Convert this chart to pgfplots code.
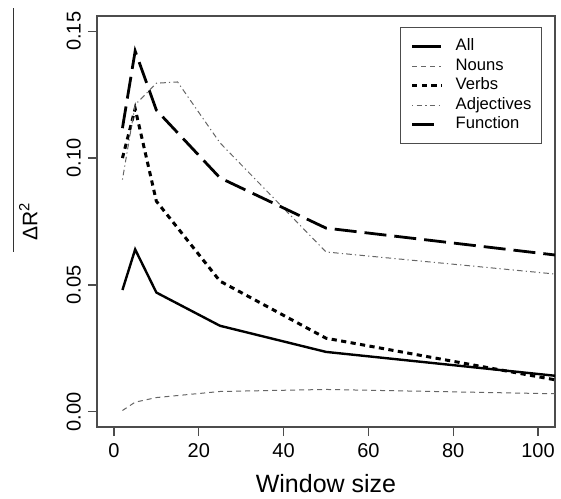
\documentclass[border=0pt]{standalone}
\usepackage{fontspec}
\setmainfont{Liberation Sans}
\usepackage{pgfplots}
\pgfplotsset{compat=1.18}

\definecolor{frame}{gray}{0.3}

\begin{document}
\begin{tikzpicture}
\begin{axis}[
  scale only axis, width=229pt, height=205.5pt,
  xmin=-4, xmax=104, ymin=-0.006, ymax=0.156,
  axis line style={frame, line width=0.6pt},
  xtick={0,20,...,100}, ytick={0,0.05,0.1,0.15},
  xtick pos=bottom, ytick pos=left, tick align=outside,
  major tick length=4.5pt, tick style={frame, line width=0.6pt},
  scaled y ticks=false,
  /pgf/number format/assume math mode=true,
  tick label style={font=\fontsize{10}{12}\selectfont},
  y tick label style={rotate=90, anchor=south,
    /pgf/number format/.cd, fixed, fixed zerofill, precision=2},
  xlabel={Window size},
  xlabel style={font=\fontsize{12.5}{14}\selectfont, at={(axis description cs:0.5,0)}, anchor=base, yshift=-32.5pt},
  ylabel={ΔR\textsuperscript{2}},
  ylabel style={font=\fontsize{10.5}{12}\selectfont, at={(axis description cs:-0.15,0.5)}, anchor=center},
  legend cell align=left,
  legend style={at={(axis description cs:1,1)}, anchor=north east, xshift=-6.5pt, yshift=-5.5pt,
    draw=frame, line width=0.6pt, font=\fontsize{8.3}{9}\selectfont,
    inner xsep=5pt, inner ysep=4.5pt, row sep=0pt,
    nodes={inner sep=0pt, text height=6.9pt, text depth=2.9pt}},
  legend image code/.code={\draw[#1] (0pt,0pt) -- (14.5pt,0pt); \path (21pt,0pt);},
]
\addplot[black, line width=1.2pt] coordinates {
  (2,0.048) (5,0.064) (10,0.047) (25,0.0339) (50,0.0236) (104,0.0142)};
\addlegendentry{All}
\addplot[black!60, line width=0.5pt, dash pattern=on 2.5pt off 2pt] coordinates {
  (2,0.0005) (5,0.0038) (10,0.0056) (25,0.0080) (50,0.0088) (104,0.0071)};
\addlegendentry{Nouns}
\addplot[black, line width=1.5pt, dash pattern=on 2.6pt off 2.2pt] coordinates {
  (2,0.100) (5,0.1195) (10,0.083) (25,0.0515) (50,0.029) (104,0.0126)};
\addlegendentry{Verbs}
\addplot[black!60, line width=0.5pt, dash pattern=on 0.6pt off 1.6pt on 2.8pt off 1.6pt] coordinates {
  (2,0.0915) (5,0.121) (10,0.1295) (15,0.130) (25,0.106) (50,0.063) (104,0.0543)};
\addlegendentry{Adjectives}
\addplot[black, line width=1.4pt, dash pattern=on 11pt off 4pt] coordinates {
  (2,0.1118) (5,0.1422) (10,0.1189) (25,0.0922) (50,0.0724) (104,0.0618)};
\addlegendentry{Function}
\coordinate (bl) at (rel axis cs:0,0);
\end{axis}
\draw[black!80, line width=0.5pt] ([xshift=-41.5pt,yshift=87.5pt]bl) -- ([xshift=-41.5pt,yshift=209.5pt]bl);
\pgfresetboundingbox
\path ([xshift=-48.5pt,yshift=-35.5pt]bl) rectangle ([xshift=232pt,yshift=213.5pt]bl);
\end{tikzpicture}
\end{document}
